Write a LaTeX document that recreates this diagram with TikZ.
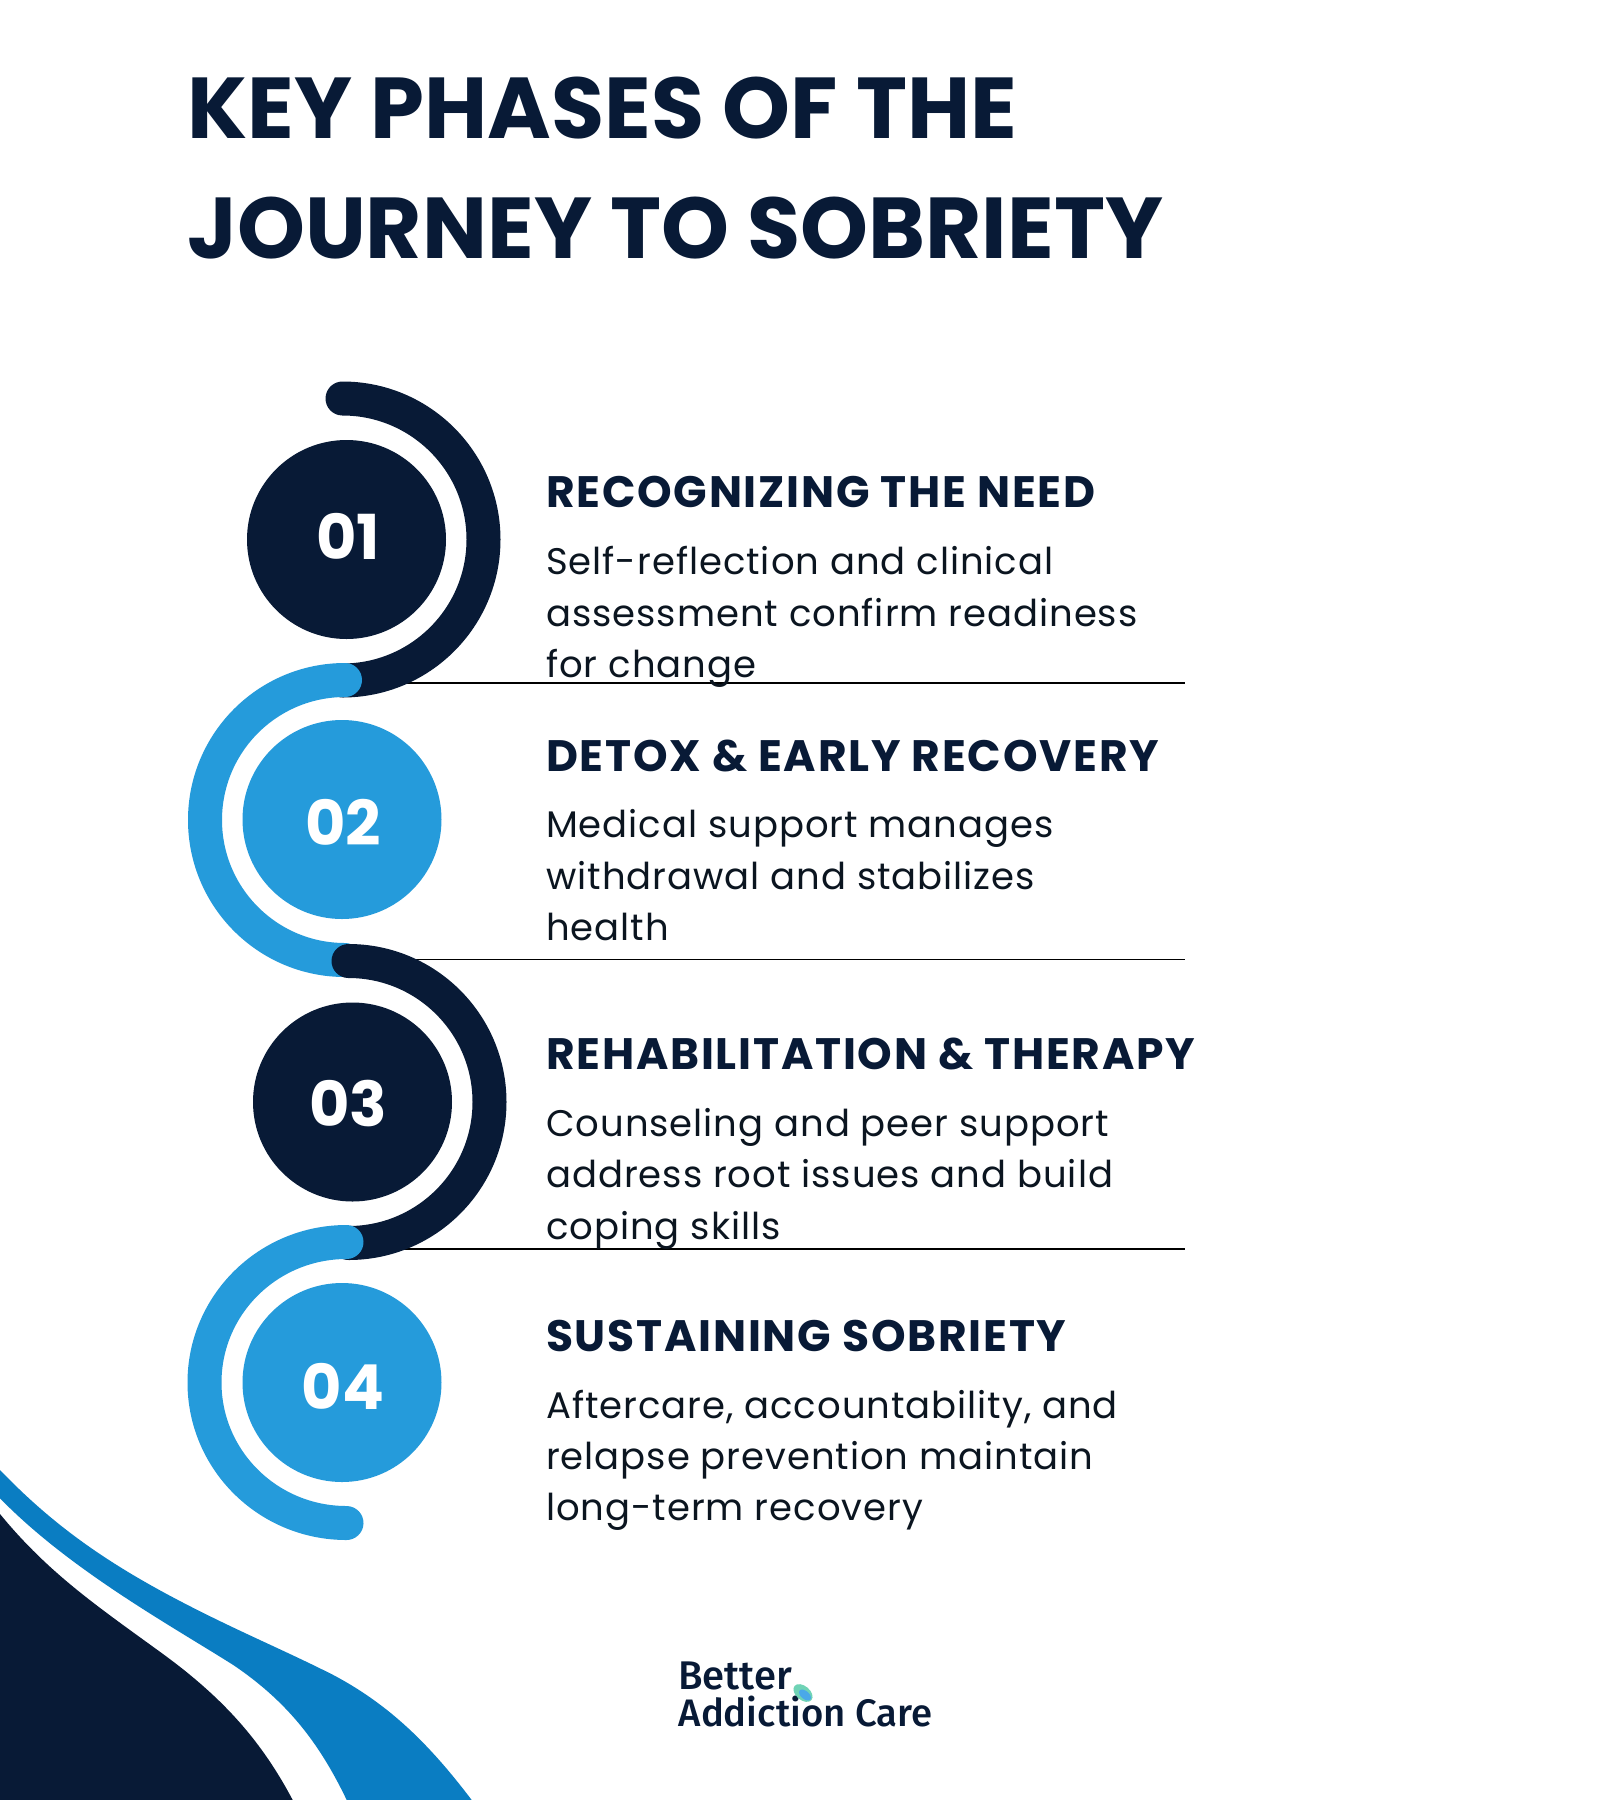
\documentclass[tikz,border=0pt]{standalone}
\usepackage{fontspec}
\setmainfont{Poppins}
\newfontfamily\headfont[LetterSpace=4]{Poppins}
\newfontfamily\bodyfont[LetterSpace=2.6]{Poppins}
\newfontfamily\logofont{Fira Sans Medium}
\definecolor{navy}{HTML}{081A36}
\definecolor{ink}{HTML}{0B1520}
\definecolor{sky}{HTML}{259BDB}
\definecolor{wave}{HTML}{0A7DC2}
\definecolor{leafg}{HTML}{6FD3B5}
\definecolor{leafb}{HTML}{4AA8E8}
\tikzset{
  ring/.style={line width=34pt,line cap=round},
  numdisc/.style={circle,minimum size=199pt,inner sep=0pt},
  numtext/.style={inner sep=0pt,text=white,font=\fontsize{62}{62}\selectfont\bfseries},
  titleline/.style={anchor=base west,inner sep=0pt,text=navy,font=\fontsize{86.4}{86.4}\selectfont\bfseries},
  headline/.style={anchor=base west,inner sep=0pt,text=navy,font=\headfont\fontsize{44}{44}\selectfont\bfseries},
  bodyline/.style={anchor=base west,inner sep=0pt,text=ink,font=\bodyfont\fontsize{37}{37}\selectfont},
  logoline/.style={anchor=base west,inner sep=0pt,text=navy,font=\logofont\fontsize{38.3}{38.3}\selectfont},
  rule/.style={line width=1.6pt,black}
}
\begin{document}
\begin{tikzpicture}[x=1pt,y=-1pt]
\useasboundingbox (0,0) rectangle (1600,1800);
\fill[white] (0,0) rectangle (1600,1800);
% waves
\fill[wave] (0,1470) .. controls (50,1522) and (100,1558) .. (166.7,1594)
  .. controls (230,1628) and (280,1648) .. (333.3,1675)
  .. controls (390,1705) and (430,1745) .. (471.7,1800)
  -- (346.7,1800) .. controls (318,1740) and (285,1700) .. (233.3,1665)
  .. controls (170,1625) and (70,1570) .. (0,1498.3) -- cycle;
\fill[navy] (0,1514) .. controls (50,1575) and (100,1608) .. (166.7,1656.7)
  .. controls (225,1700) and (262,1742) .. (292.7,1800) -- (0,1800) -- cycle;
% rules
\coordinate (r1a) at (400,683); \coordinate (r1b) at (1184.5,683);
\coordinate (r2a) at (400,959.5); \coordinate (r2b) at (1184.5,959.5);
\coordinate (r3a) at (400,1249); \coordinate (r3b) at (1184.5,1249);
\draw[rule] (r1a) -- (r1b);
\draw[rule] (r2a) -- (r2b);
\draw[rule] (r3a) -- (r3b);
% arcs
\draw[ring,navy] (342.5,398.5) arc[start angle=-90,end angle=90,radius=141];
\draw[ring,sky] (345,680) arc[start angle=-90,end angle=-270,radius=140];
\draw[ring,navy] (348.5,961) arc[start angle=-90,end angle=90,radius=141];
\draw[ring,sky] (346.5,1242) arc[start angle=-90,end angle=-270,x radius=142,y radius=140.5];
% discs
\node[numdisc,fill=navy] (d1) at (346.5,539.5) {};
\node[numdisc,fill=sky] (d2) at (342,819.5) {};
\node[numdisc,fill=navy] (d3) at (352.5,1102) {};
\node[numdisc,fill=sky] (d4) at (342,1382.5) {};
\node[numtext] (n1) at (348,536) {01};
\node[numtext] (n2) at (343,822) {02};
\node[numtext] (n3) at (348,1104) {03};
\node[numtext] (n4) at (343,1386) {04};
% title
\node[titleline] (t1) at (187,138.5) {KEY PHASES OF THE};
\node[titleline] (t2) at (187,258) {JOURNEY TO SOBRIETY};
% phase 1
\node[headline] (h1) at (546,507) {RECOGNIZING THE NEED};
\node[bodyline] (b1a) at (546,574) {Self-reflection and clinical};
\node[bodyline] (b1b) at (546,626) {assessment confirm readiness};
\node[bodyline] (b1c) at (546,677) {for change};
% phase 2
\node[headline] (h2) at (546,771) {DETOX \& EARLY RECOVERY};
\node[bodyline] (b2a) at (546,837) {Medical support manages};
\node[bodyline] (b2b) at (546,889) {withdrawal and stabilizes};
\node[bodyline] (b2c) at (546,940) {health};
% phase 3
\node[headline] (h3) at (546,1069) {REHABILITATION \& THERAPY};
\node[bodyline] (b3a) at (546,1136) {Counseling and peer support};
\node[bodyline] (b3b) at (546,1187) {address root issues and build};
\node[bodyline] (b3c) at (546,1239) {coping skills};
% phase 4
\node[headline] (h4) at (546,1351) {SUSTAINING SOBRIETY};
\node[bodyline] (b4a) at (546,1418) {Aftercare, accountability, and};
\node[bodyline] (b4b) at (546,1469) {relapse prevention maintain};
\node[bodyline] (b4c) at (546,1520) {long-term recovery};
% logo
\node[logoline,font=\logofont\fontsize{40}{40}\selectfont] (l1) at (678,1689) {Better};
\node[logoline] (l2) at (678.5,1726) {Addiction Care};
\fill[leafg,rotate around={-40:(803,1693)}] (803,1693) ellipse[x radius=11,y radius=7];
\fill[leafb,rotate around={-40:(805,1695)}] (805,1695) ellipse[x radius=7,y radius=4];
\end{tikzpicture}
\end{document}
